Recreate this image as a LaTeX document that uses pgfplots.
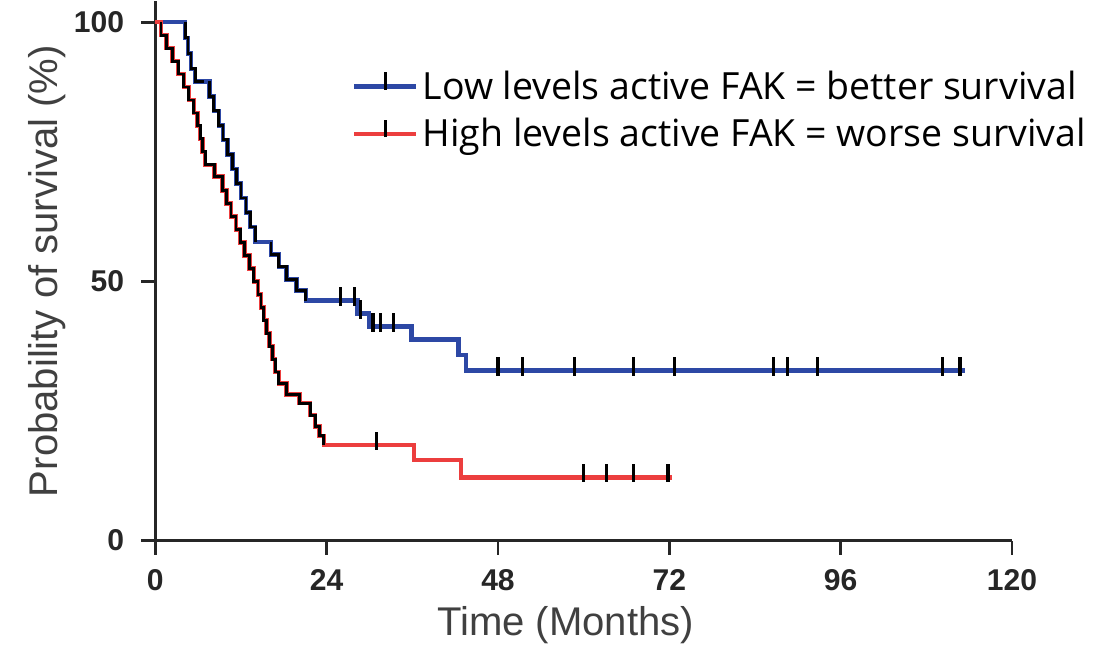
\documentclass[border=0pt]{standalone}
\usepackage{fontspec}
\setmainfont{Liberation Sans}
\newfontfamily\legfont{Open Sans}
\usepackage{pgfplots}
\pgfplotsset{compat=1.18}

\definecolor{kmblue}{RGB}{45,72,165}
\definecolor{kmred}{RGB}{236,62,62}

\begin{document}
\begin{tikzpicture}
\begin{axis}[
  scale only axis, width=426bp, height=268bp,
  xmin=0, xmax=120, ymin=0, ymax=104,
  axis lines*=left,
  axis line style={line width=1.5bp, black!85},
  xtick={0,24,48,72,96,120}, ytick={0,50,100},
  tick align=outside, major tick length=7bp,
  tick style={line width=1.3bp, black!85},
  /pgf/number format/assume math mode=true,
  tick label style={font=\fontsize{15}{17}\selectfont\bfseries, text=black!85},
  yticklabel shift=5bp, xticklabel shift=4bp,
  xlabel={Time (Months)}, ylabel={Probability of survival (\%)},
  label style={font=\fontsize{20}{23}\selectfont, text=black!75},
  xlabel style={yshift=-1bp, xshift=-9bp}, ylabel style={yshift=-3bp},
  legend style={at={(rel axis cs:0.222,0.887)}, anchor=north west, draw=none, fill=none,
    font=\legfont\fontsize{18.7}{22}\selectfont, row sep=4bp},
  legend cell align=left,
  legend image code/.code={
    \draw[#1, line width=2.2bp] (0bp,0bp) -- (31bp,0bp);
    \draw[black, line width=1.5bp] (15.5bp,-1.5bp) -- (15.5bp,7bp);},
  clip=false,
]
% Low levels active FAK
\addplot[kmblue, line width=2.2bp, const plot, mark=none] coordinates {
  (0,100)(4.2,97)(4.6,94)(5.0,91)(5.6,88.6)(7.6,85.7)(8.2,82.9)(8.9,80.1)(9.5,77.3)
  (10.1,74.5)(10.8,71.7)(11.4,68.9)(12.0,66.1)(12.7,63.3)(13.3,60.5)(14.0,57.6)
  (16.2,55.2)(17.3,52.8)(18.4,50.4)(19.8,48.2)(21.1,46.3)(28.3,43.8)(29.9,41.3)
  (35.9,38.8)(42.5,35.8)(43.5,32.8)(113.4,32.8)
};
\addlegendentry{Low levels active FAK = better survival}
% High levels active FAK
\addplot[kmred, line width=2.2bp, const plot, mark=none] coordinates {
  (0,100)(0.8,97.5)(1.6,95)(2.4,92.5)(3.2,90)(4.0,87.5)(4.7,85)(5.4,82.5)(5.9,80)
  (6.3,77.5)(6.6,75)(7.0,72.5)(8.3,70.2)(9.4,67.5)(10.0,65)(10.6,62.5)(11.3,60)
  (11.9,57.5)(12.5,55)(13.2,52.5)(13.8,50)(14.4,47.5)(14.8,45)(15.2,42.5)(15.6,40)
  (16.0,37.5)(16.4,35)(16.8,32.5)(17.3,30.3)(18.4,28.2)(20.2,26.5)(21.7,24.2)
  (22.4,22)(23.0,20.2)(23.6,18.4)(36.2,15.5)(42.8,12.2)(72.4,12.2)
};
\addlegendentry{High levels active FAK = worse survival}

% dense early steps drawn dark
\addplot[black, line width=1.4bp, const plot, mark=none, forget plot] coordinates {
  (4.2,100)(4.2,97)(4.6,94)(5.0,91)(5.6,88.6)(6.8,88.6)
};
\addplot[black, line width=1.4bp, const plot, mark=none, forget plot] coordinates {
  (7.6,88.6)(7.6,85.7)(8.2,82.9)(8.9,80.1)(9.5,77.3)(10.1,74.5)(10.8,71.7)
  (11.4,68.9)(12.0,66.1)(12.7,63.3)(13.3,60.5)(14.0,57.6)
};
\addplot[black, line width=1.4bp, const plot, mark=none, forget plot] coordinates {
  (16.2,57.6)(16.2,55.2)(17.3,52.8)(18.4,50.4)(19.8,48.2)(21.1,46.3)
};
\addplot[black, line width=1.4bp, const plot, mark=none, forget plot] coordinates {
  (0.8,100)(0.8,97.5)(1.6,95)(2.4,92.5)(3.2,90)(4.0,87.5)(4.7,85)(5.4,82.5)(5.9,80)
  (6.3,77.5)(6.6,75)(7.0,72.5)(8.3,70.2)(9.4,67.5)(10.0,65)(10.6,62.5)(11.3,60)
  (11.9,57.5)(12.5,55)(13.2,52.5)(13.8,50)(14.4,47.5)(14.8,45)(15.2,42.5)(15.6,40)
  (16.0,37.5)(16.4,35)(16.8,32.5)(17.3,30.3)(18.4,28.2)(20.2,26.5)(21.7,24.2)
  (22.4,22)(23.0,20.2)(23.6,18.4)
};

% censored observations
\addplot[only marks, mark=|, mark size=4.5bp, forget plot,
  mark options={black, line width=1.6bp, yshift=2bp}] coordinates {
  (25.9,46.3)(27.9,46.3)(28.8,43.8)(30.5,41.3)(31.5,41.3)(33.4,41.3)
  (48,32.8)(51.4,32.8)(58.7,32.8)(67,32.8)(72.7,32.8)(86.6,32.8)(88.6,32.8)
  (92.8,32.8)(110.3,32.8)(112.7,32.8)
};
\addplot[only marks, mark=|, mark size=4.5bp, forget plot,
  mark options={black, line width=1.6bp, yshift=2bp}] coordinates {
  (31,18.4)(60,12.2)(63.2,12.2)(67,12.2)(71.8,12.2)
};
\end{axis}
% blank margin on the left and below, as in the reference
\path ([xshift=-11bp,yshift=-4bp]current bounding box.south west) rectangle (current bounding box.north east);
\end{tikzpicture}
\end{document}
